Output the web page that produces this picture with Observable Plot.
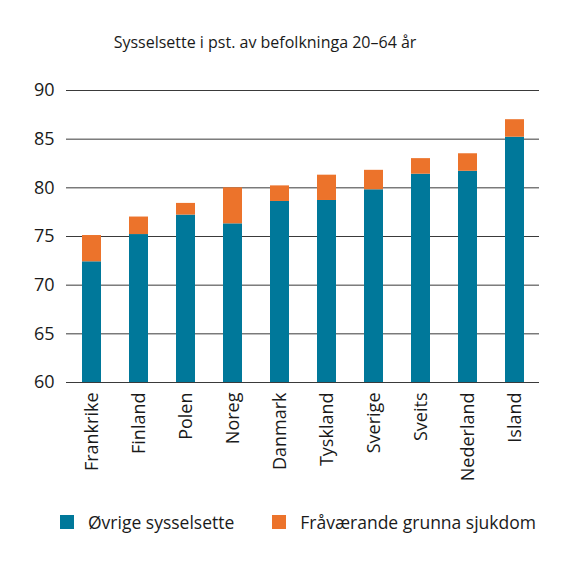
<!DOCTYPE html>
<html>
<head>
<meta charset="utf-8">
<script src="https://cdn.jsdelivr.net/npm/d3@7"></script>
<script src="https://cdn.jsdelivr.net/npm/@observablehq/plot@0.6"></script>
<style>
  body { margin: 0; background: #fff; font-family: "Open Sans", sans-serif; color: #1a1a1a; }
  #title { height: 60px; width: 530px; text-align: center; font-size: 16px; line-height: 24px; padding-top: 30px; box-sizing: border-box; }
  #legend { display: flex; align-items: center; font-size: 17.5px; padding-left: 60px; margin-top: 10px; }
  #legend .sw { width: 14px; height: 14px; display: inline-block; margin-right: 14px; }
  #legend .item { display: flex; align-items: center; margin-right: 38px; }
</style>
</head>
<body>
<div id="title">Sysselsette i pst. av befolkninga 20–64 år</div>
<div id="chart"></div>
<div id="legend"></div>
<script>
// land, sortert som i figuren
const land = ["Frankrike", "Finland", "Polen", "Noreg", "Danmark", "Tyskland", "Sverige", "Sveits", "Nederland", "Island"]
// Øvrige sysselsette (pst.)
const ovrige = [72.4, 75.2, 77.2, 76.3, 78.6, 78.7, 79.8, 81.4, 81.7, 85.2]
// Fråværande grunna sjukdom (prosentpoeng oppå)
const sjuke = [2.7, 1.8, 1.2, 3.7, 1.6, 2.6, 2.0, 1.6, 1.8, 1.8]
const yTicks = [60, 65, 70, 75, 80, 85, 90]

const serier = ["Øvrige sysselsette", "Fråværande grunna sjukdom"]
const fargar = ["#00789a", "#ec732b"]

const data = land.map((l, i) => ({
  land: l,
  ovrige: ovrige[i],
  total: ovrige[i] + sjuke[i]
}))

let chart = Plot.plot({
  width: 575,
  height: 440,
  marginLeft: 66,
  marginRight: 36,
  marginTop: 30,
  marginBottom: 118,
  style: { fontFamily: "Open Sans, sans-serif", fontSize: "18px", color: "#1a1a1a" },
  x: { domain: land, paddingInner: 0.6, paddingOuter: 0.3, label: null, tickSize: 0, tickPadding: 10, tickRotate: -90 },
  y: { domain: [60, 90], ticks: yTicks, label: null, tickSize: 0, tickPadding: 12 },
  marks: [
    Plot.ruleY(yTicks, { stroke: "#3a3a3a", strokeWidth: 1 }),
    Plot.barY(data, { x: "land", y1: 60, y2: "ovrige", fill: fargar[0] }),
    Plot.barY(data, { x: "land", y1: "ovrige", y2: "total", fill: fargar[1] })
  ]
})
d3.select('#chart').append(() => chart)

// legende under figuren
const leg = d3.select('#legend')
serier.forEach((s, i) => {
  const item = leg.append('div').attr('class', 'item')
  item.append('span').attr('class', 'sw').style('background', fargar[i])
  item.append('span').text(s)
})
</script>
</body>
</html>
